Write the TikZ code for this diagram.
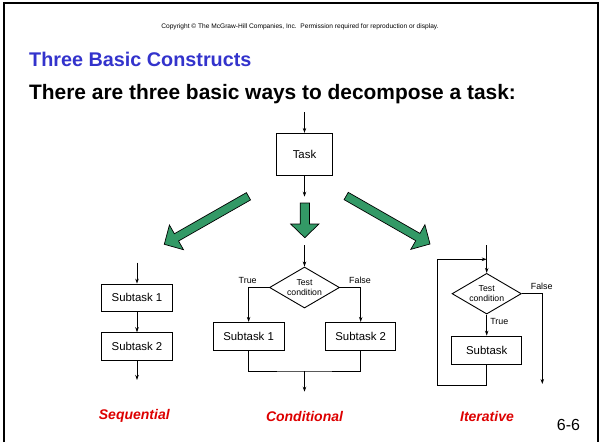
\documentclass[tikz,border=0pt]{standalone}
\usepackage{fontspec}
\setmainfont{Liberation Sans}
\usetikzlibrary{shapes.geometric,arrows.meta}
\definecolor{titleblue}{RGB}{51,51,204}
\definecolor{labelred}{RGB}{221,0,0}
\definecolor{arrowgreen}{RGB}{51,153,102}
\tikzset{
  box/.style={draw, line width=0.9pt, inner sep=0pt, font=\fontsize{11.4}{13}\selectfont},
  test/.style={draw, diamond, line width=0.9pt, inner sep=0pt, aspect=1.7,
    minimum width=70pt, minimum height=41pt, align=center,
    font=\fontsize{8.7}{10.5}\selectfont},
  flow/.style={line width=0.8pt, -{Stealth[length=5pt,width=3.5pt]}},
  line/.style={line width=0.8pt},
  tag/.style={font=\fontsize{8.9}{10}\selectfont},
  kind/.style={text=labelred, font=\fontsize{14}{16}\bfseries\itshape\selectfont},
  bigarrow/.style={draw=black, line width=0.7pt, fill=arrowgreen, line join=miter}
}
\begin{document}
\begin{tikzpicture}[x=1pt,y=-1pt]
    \useasboundingbox (0,0) rectangle (600,442);
    \draw[line width=1.6pt] (3.7,442) -- (3.7,2.7) -- (597.8,2.7) -- (597.8,442);
    \node[font=\fontsize{6.6}{7}\selectfont] (copy) at (300,27) {Copyright \textcopyright\ The McGraw-Hill Companies, Inc.\ \ Permission required for reproduction or display.};
    \node[anchor=base west, inner sep=0pt, text=titleblue, font=\fontsize{19.8}{23}\bfseries\selectfont] (title) at (29,66.7) {Three Basic Constructs};
    \node[anchor=base west, inner sep=0pt, font=\fontsize{20.9}{24}\bfseries\selectfont] (sub) at (29,99.3) {There are three basic ways to decompose a task:};

    \coordinate (tin) at (304.5,112);
    \node[box, minimum width=55.6pt, minimum height=42.4pt] (task) at (304.5,154.5) {Task};
    \coordinate (tout) at (304.5,196.7);
    \draw[flow] (tin) -- (task);
    \draw[flow] (task) -- (tout);

    \begin{scope}[shift={(304.8,237.7)}, rotate=-90]
      \filldraw[bigarrow] (0,0) -- (-13.7,14.15) -- (-13.7,4.65) -- (-34.7,4.65) -- (-34.7,-4.65) -- (-13.7,-4.65) -- (-13.7,-14.15) -- cycle;
    \end{scope}
    \begin{scope}[shift={(164.3,244.3)}, rotate=-150.3]
      \filldraw[bigarrow] (0,0) -- (-14,14.2) -- (-14,4.2) -- (-96.9,4.2) -- (-96.9,-4.2) -- (-14,-4.2) -- (-14,-14.2) -- cycle;
    \end{scope}
    \begin{scope}[shift={(430,244)}, rotate=-29.8]
      \filldraw[bigarrow] (0,0) -- (-14,14.2) -- (-14,4.2) -- (-96.6,4.2) -- (-96.6,-4.2) -- (-14,-4.2) -- (-14,-14.2) -- cycle;
    \end{scope}

    \coordinate (sin) at (137,262.7);
    \node[box, minimum width=70.6pt, minimum height=27.7pt] (s1) at (137,297.9) {Subtask 1};
    \node[box, minimum width=70.6pt, minimum height=28pt] (s2) at (137,346.7) {Subtask 2};
    \coordinate (sout) at (137,380);
    \draw[flow] (sin) -- (s1);
    \draw[flow] (s1) -- (s2);
    \draw[flow] (s2) -- (sout);
    \node[kind] (seq) at (134.3,416) {Sequential};

    \coordinate (cin) at (304.5,245);
    \node[test] (ct) at (304.5,287.5) {Test\\condition};
    \node[box, minimum width=70.7pt, minimum height=27.7pt] (c1) at (248.6,336.2) {Subtask 1};
    \node[box, minimum width=70pt, minimum height=27.7pt] (c2) at (360.7,336.2) {Subtask 2};
    \coordinate (cj) at (304.5,371);
    \coordinate (cout) at (304.5,391.7);
    \draw[flow] (cin) -- (ct);
    \draw[flow] (ct.west) -| (c1.north);
    \draw[flow] (ct.east) -| (c2.north);
    \draw[line] (c1.south) |- (cj) -| (c2.south);
    \draw[flow] (cj) -- (cout);
    \node[tag] (ctrue) at (247.7,280) {True};
    \node[tag] (cfalse) at (360,280) {False};
    \node[kind] (cond) at (304.5,416) {Conditional};

    \coordinate (iin) at (486.7,245);
    \node[test, minimum width=69.3pt, minimum height=40.7pt] (it) at (486.7,293.7) {Test\\condition};
    \node[box, minimum width=70pt, minimum height=28.3pt] (i1) at (486.7,350.2) {Subtask};
    \coordinate (ib) at (486.7,385);
    \coordinate (il) at (437.3,385);
    \coordinate (iu) at (437.3,259.3);
    \coordinate (ij) at (486.7,259.3);
    \coordinate (iout) at (542.3,384);
    \draw[flow] (iin) -- (it);
    \draw[flow] (it) -- (i1);
    \draw[flow] (i1.south) -- (ib) -- (il) -- (iu) -- (ij);
    \draw[flow] (it.east) -| (iout);
    \node[tag] (itrue) at (499.3,321.7) {True};
    \node[tag] (ifalse) at (541.7,286.7) {False};
    \node[kind] (iter) at (487,416) {Iterative};

    \node[anchor=base west, inner sep=0pt, font=\fontsize{16}{18}\selectfont] (num) at (556.7,430) {6-6};
\end{tikzpicture}
\end{document}
